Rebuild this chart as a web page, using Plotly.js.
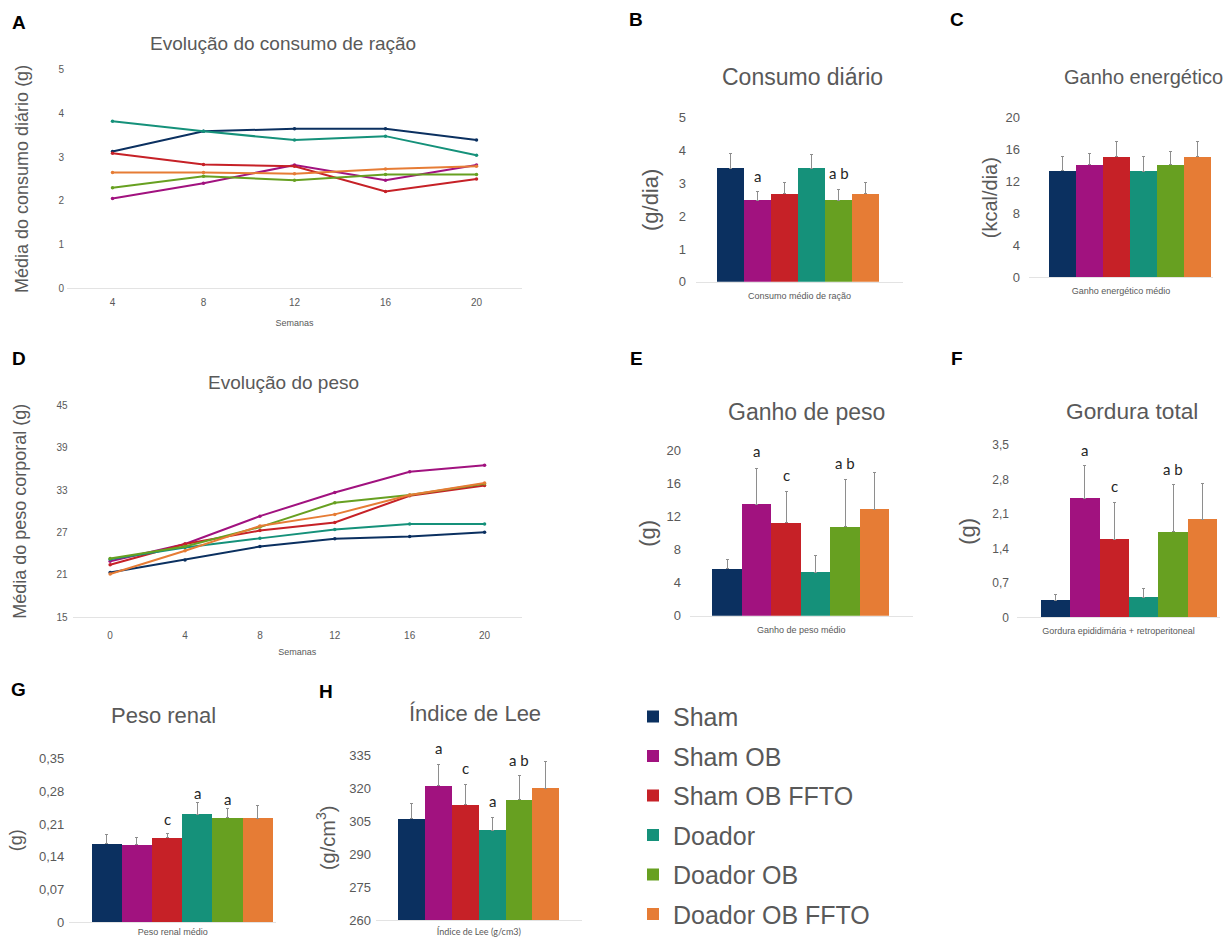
<!DOCTYPE html>
<html><head><meta charset="utf-8">
<script src="https://cdn.plot.ly/plotly-3.0.1.min.js"></script>
<style>html,body{margin:0;padding:0;background:#fff;} #chart{width:1223px;height:937px;}</style>
</head><body><div id="chart"></div>
<script>
// ---------------- DATA ----------------
const grupos = ['Sham', 'Sham OB', 'Sham OB FFTO', 'Doador', 'Doador OB', 'Doador OB FFTO'];

// A - Evolução do consumo de ração (g/dia), rows follow "grupos"
const semanasConsumo = [4, 8, 12, 16, 20];
const consumoSemanal = [
  [3.13, 3.59, 3.65, 3.65, 3.39],
  [2.05, 2.40, 2.82, 2.47, 2.82],
  [3.09, 2.83, 2.79, 2.21, 2.50],
  [3.82, 3.59, 3.39, 3.48, 3.04],
  [2.30, 2.56, 2.47, 2.60, 2.60],
  [2.65, 2.65, 2.62, 2.73, 2.79]
];

// D - Evolução do peso (g)
const semanasPeso = [0, 4, 8, 12, 16, 20];
const pesoSemanal = [
  [21.3, 23.1, 25.0, 26.1, 26.4, 27.0],
  [22.9, 25.35, 29.3, 32.65, 35.6, 36.5],
  [22.4, 25.35, 27.25, 28.4, 32.2, 33.65],
  [23.2, 24.85, 26.15, 27.4, 28.2, 28.2],
  [23.3, 25.0, 27.75, 31.2, 32.3, 33.9],
  [21.1, 24.4, 27.9, 29.55, 32.3, 34.0]
];

// B - Consumo diário
const consumoDiario = [3.46, 2.49, 2.69, 3.46, 2.49, 2.69];
const consumoDiarioErro = [0.44, 0.26, 0.33, 0.42, 0.33, 0.33];
const consumoDiarioLetras = ['', 'a', '', '', 'a b', ''];

// C - Ganho energético
const ganhoEnergetico = [13.4, 14.1, 15.1, 13.3, 14.1, 15.1];
const ganhoEnergeticoErro = [1.8, 1.4, 1.9, 1.8, 1.75, 1.9];
const ganhoEnergeticoLetras = ['', '', '', '', '', ''];

// E - Ganho de peso
const ganhoPeso = [5.68, 13.54, 11.29, 5.25, 10.81, 12.9];
const ganhoPesoErro = [1.18, 4.32, 3.75, 2.09, 5.68, 4.51];
const ganhoPesoLetras = ['', 'a', 'c', '', 'a b', ''];

// F - Gordura total
const gorduraTotal = [0.35, 2.42, 1.59, 0.41, 1.74, 1.99];
const gorduraTotalErro = [0.11, 0.66, 0.75, 0.17, 0.96, 0.73];
const gorduraTotalLetras = ['', 'a', 'c', '', 'a b', ''];

// G - Peso renal
const pesoRenal = [0.168, 0.166, 0.180, 0.231, 0.223, 0.222];
const pesoRenalErro = [0.019, 0.016, 0.010, 0.025, 0.021, 0.028];
const pesoRenalLetras = ['', '', 'c', 'a', 'a', ''];

// H - Índice de Lee
const indiceLee = [306.2, 321.2, 312.5, 301.0, 314.8, 320.1];
const indiceLeeErro = [6.8, 9.8, 9.5, 5.8, 11.1, 12.4];
const indiceLeeLetras = ['', 'a', 'c', 'a', 'a b', ''];

// ---------------- STYLE ----------------
const cores = ['#0b3060', '#a1127f', '#c62127', '#15917a', '#67a021', '#e67c35'];
const W = 1223, H = 937;
const FONT = 'Liberation Sans, Arial, sans-serif';
const GREY = '#595959';
const px = x => x / W;
const py = y => 1 - y / H;

const traces = [];
const annotations = [];
const layout = {
  width: W, height: H, autosize: false,
  margin: {l: 0, r: 0, t: 0, b: 0},
  paper_bgcolor: '#ffffff', plot_bgcolor: 'rgba(0,0,0,0)',
  font: {family: FONT, color: GREY},
  separators: ',.',
  barmode: 'overlay', bargap: 0,
  showlegend: true,
  legend: {
    x: px(633), y: py(696), xanchor: 'left', yanchor: 'top',
    font: {family: FONT, size: 25, color: GREY},
    tracegroupgap: 4, bgcolor: 'rgba(0,0,0,0)', borderwidth: 0
  },
  annotations: annotations
};

function axKey(n) { return n === 1 ? '' : String(n); }

function addTitle(text, cx, cy, size) {
  annotations.push({xref: 'paper', yref: 'paper', x: px(cx), y: py(cy), xanchor: 'center', yanchor: 'middle',
    text: text, showarrow: false, font: {family: FONT, size: size, color: GREY}});
}
function addLetter(text, cx, cy) {
  annotations.push({xref: 'paper', yref: 'paper', x: px(cx), y: py(cy), xanchor: 'center', yanchor: 'middle',
    text: '<b>' + text + '</b>', showarrow: false, font: {family: FONT, size: 19, color: '#000000'}});
}

function yAxisCfg(n, box, range, dtick, tick0, tickSize, labelStand, title, titleSize, standoff) {
  return {
    domain: [py(box.b), py(box.t)], anchor: 'x' + axKey(n), range: range, dtick: dtick, tick0: tick0,
    showgrid: false, zeroline: false, showline: false, ticks: '', automargin: false, fixedrange: true,
    ticklabelstandoff: labelStand,
    tickfont: {family: FONT, size: tickSize, color: GREY},
    title: {text: title, font: {family: FONT, size: titleSize, color: GREY}, standoff: standoff}
  };
}

function linePanel(n, xs, rows, box, xRange, yRange, dtick, tick0, tickSize, labelStand, xLabelStand, xTitleStand, ytitle, standoff) {
  const k = axKey(n);
  rows.forEach((row, i) => {
    traces.push({type: 'scatter', mode: 'lines+markers', x: xs, y: row, name: grupos[i],
      xaxis: 'x' + k, yaxis: 'y' + k, showlegend: false, legendgroup: grupos[i],
      line: {color: cores[i], width: 2}, marker: {color: cores[i], size: 3.5}, hoverinfo: 'skip'});
  });
  layout['xaxis' + k] = {
    domain: [px(box.l), px(box.r)], anchor: 'y' + k, range: xRange, tickvals: xs,
    showgrid: false, zeroline: false, showline: true, linecolor: '#e3e3e3', linewidth: 1,
    ticks: '', automargin: false, fixedrange: true, ticklabelstandoff: xLabelStand,
    tickfont: {family: FONT, size: tickSize, color: GREY},
    title: {text: 'Semanas', font: {family: FONT, size: 9, color: GREY}, standoff: xTitleStand}
  };
  layout['yaxis' + k] = yAxisCfg(n, box, yRange, dtick, tick0, tickSize, labelStand, ytitle, 18, standoff);
}

function barPanel(n, vals, errs, letras, box, bars, yRange, dtick, tickSize, labelStand, ytitle, titleSize, standoff, cat, catFont, letterShift, legend) {
  const k = axKey(n);
  const ppu = (bars[1] - bars[0]) / grupos.length;
  const xRange = [-0.5 - (bars[0] - box.l) / ppu, grupos.length - 0.5 + (box.r - bars[1]) / ppu];
  grupos.forEach((g, i) => {
    traces.push({type: 'bar', x: [g], y: [vals[i]], width: 1, name: g,
      xaxis: 'x' + k, yaxis: 'y' + k, showlegend: !!legend, legendgroup: g,
      marker: {color: cores[i], line: {width: 0}},
      error_y: {type: 'data', symmetric: false, array: [errs[i]], arrayminus: [0],
        color: '#8e8e8e', thickness: 1, width: 1.5},
      hoverinfo: 'skip'});
    if (letras[i]) {
      const sh = Array.isArray(letterShift) ? letterShift[i] : letterShift;
      annotations.push({xref: 'x' + k, yref: 'y' + k, x: g, y: vals[i] + errs[i], yshift: sh,
        xanchor: 'center', yanchor: 'middle', showarrow: false, text: letras[i],
        font: {family: 'Lato, Carlito, sans-serif', size: 15, color: '#262626'}});
    }
  });
  layout['xaxis' + k] = {
    domain: [px(box.l), px(box.r)], anchor: 'y' + k, type: 'category', categoryorder: 'array', categoryarray: grupos,
    range: xRange, showticklabels: false, ticks: '', showgrid: false, zeroline: false,
    showline: true, linecolor: '#e3e3e3', linewidth: 1, automargin: false, fixedrange: true,
    title: {text: cat, font: {family: catFont || FONT, size: 9, color: GREY}, standoff: 10}
  };
  layout['yaxis' + k] = yAxisCfg(n, box, yRange, dtick, yRange[0], tickSize, labelStand, ytitle, titleSize, standoff);
}

// ---------------- PANELS ----------------
linePanel(1, semanasConsumo, consumoSemanal, {l: 67, r: 522, t: 70, b: 289}, [2, 22], [0, 5], 1, 0, 10, 2, 5, 12,
  'Média do consumo diário (g)', 25);
barPanel(2, consumoDiario, consumoDiarioErro, consumoDiarioLetras, {l: 696, r: 903, t: 118.3, b: 282.7}, [716.7, 879.3],
  [0, 5], 1, 13, 9, '(g/dia)', 22, 14, 'Consumo médio de ração', null, 16, true);
barPanel(3, ganhoEnergetico, ganhoEnergeticoErro, ganhoEnergeticoLetras, {l: 1029, r: 1213, t: 118.3, b: 278.3}, [1049, 1211],
  [0, 20], 4, 13, 8, '(kcal/dia)', 20, 2, 'Ganho energético médio', null, 16, false);
linePanel(4, semanasPeso, pesoSemanal, {l: 72.7, r: 522, t: 406.7, b: 619}, [-2, 22], [15, 45], 6, 15, 10, 4, 9, 8,
  'Média do peso corporal (g)', 25);
barPanel(5, ganhoPeso, ganhoPesoErro, ganhoPesoLetras, {l: 690, r: 912.7, t: 452.3, b: 617.7}, [712.3, 889.3],
  [0, 20], 4, 13, 8, '(g)', 22, 4, 'Ganho de peso médio', null, 17, false);
barPanel(6, gorduraTotal, gorduraTotalErro, gorduraTotalLetras, {l: 1017, r: 1220, t: 446.7, b: 619.3}, [1040.7, 1217.3],
  [0, 3.5], 0.7, 12, 7, '(g)', 22, 10, 'Gordura epididimária + retroperitoneal', null, 16, false);
barPanel(7, pesoRenal, pesoRenalErro, pesoRenalLetras, {l: 69.3, r: 276, t: 761, b: 925}, [91.7, 272.7],
  [0, 0.35], 0.07, 13, 4, '(g)', 18, 11, 'Peso renal médio', null, [0, 0, 14, 9, 9, 0], false);
barPanel(8, indiceLee, indiceLeeErro, indiceLeeLetras, {l: 376, r: 581.7, t: 758, b: 923}, [398.3, 559.3],
  [260, 335], 15, 13, 4, '(g/cm<sup>3</sup>)', 20, 8, 'Índice de Lee (g/cm3)', 'Lato, sans-serif', 16, false);

// Titles
addTitle('Evolução do consumo de ração', 283, 44, 19);
addTitle('Consumo diário', 802, 77, 23);
addTitle('Ganho energético', 1143.5, 77, 20);
addTitle('Evolução do peso', 283, 384, 19);
addTitle('Ganho de peso', 806.7, 413, 23);
addTitle('Gordura total', 1131.7, 412, 22.7);
addTitle('Peso renal', 163.3, 717.5, 22);
addTitle('Índice de Lee', 475, 716, 22);

// Panel letters
addLetter('A', 19, 23);
addLetter('B', 635.5, 20);
addLetter('C', 956.5, 19.5);
addLetter('D', 19, 360);
addLetter('E', 636.5, 360);
addLetter('F', 956.5, 360);
addLetter('G', 18.5, 691.5);
addLetter('H', 325.5, 693.5);

Plotly.newPlot('chart', traces, layout, {staticPlot: true, displayModeBar: false});
</script>
</body></html>
